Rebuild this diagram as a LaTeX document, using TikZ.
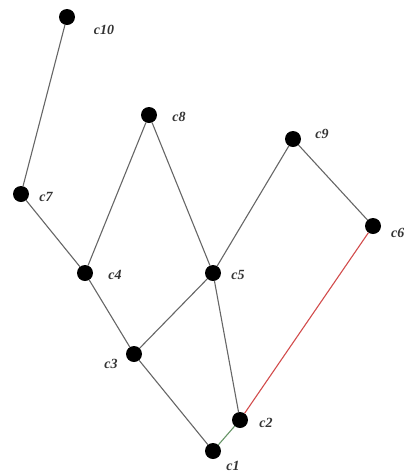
\documentclass[tikz,border=0pt]{standalone}
\usepackage{fontspec}
\setmainfont{Liberation Serif}
\begin{document}
\begin{tikzpicture}[x=1pt,y=-1pt,
  dot/.style={circle,fill=black,inner sep=0pt,minimum size=16pt},
  lbl/.style={font=\fontsize{14}{16}\selectfont\bfseries\itshape,text=black!80,inner sep=0pt},
  edge/.style={draw=black!60,line width=1.1pt}]
\useasboundingbox (0,0) rectangle (404,475);
\node[dot] (c10) at (67,17) {};
\node[dot] (c7) at (21,194) {};
\node[dot] (c8) at (149,115) {};
\node[dot] (c9) at (293,139) {};
\node[dot] (c6) at (373,226) {};
\node[dot] (c4) at (85,273) {};
\node[dot] (c5) at (213,273) {};
\node[dot] (c3) at (134,354) {};
\node[dot] (c2) at (240,420) {};
\node[dot] (c1) at (213,451) {};
\node[lbl] (l10) at (104,30) {c10};
\node[lbl] (l7) at (46,197) {c7};
\node[lbl] (l8) at (179,117) {c8};
\node[lbl] (l9) at (322,134) {c9};
\node[lbl,anchor=west] (l6) at (391,233) {c6};
\node[lbl] (l4) at (115,275) {c4};
\node[lbl] (l5) at (238,275) {c5};
\node[lbl] (l3) at (111,364) {c3};
\node[lbl] (l2) at (266,423) {c2};
\node[lbl] (l1) at (233,466) {c1};
\draw[edge] (c10) -- (c7);
\draw[edge] (c7) -- (c4);
\draw[edge] (c4) -- (c8);
\draw[edge] (c8) -- (c5);
\draw[edge] (c4) -- (c3);
\draw[edge] (c3) -- (c5);
\draw[edge] (c5) -- (c9);
\draw[edge] (c9) -- (c6);
\draw[edge] (c5) -- (c2);
\draw[edge] (c3) -- (c1);
\draw[edge,draw=green!30!black!60] (c1) -- (c2);
\draw[edge,draw=red!75!black!70] (c2) -- (c6);
\end{tikzpicture}
\end{document}
